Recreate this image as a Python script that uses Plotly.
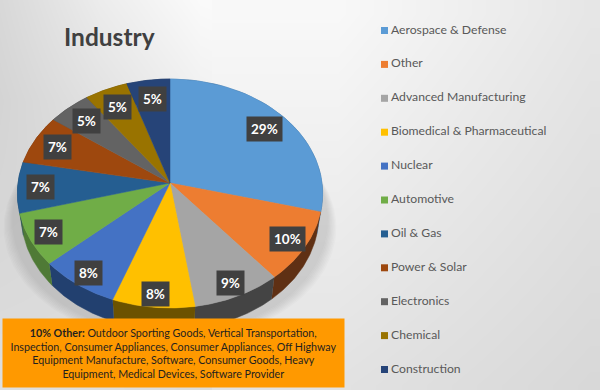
import numpy as np
import plotly.graph_objects as go

categories = ["Aerospace & Defense", "Other", "Advanced Manufacturing",
              "Biomedical & Pharmaceutical", "Nuclear", "Automotive", "Oil & Gas",
              "Power & Solar", "Electronics", "Chemical", "Construction"]
values = [29, 10, 8.6, 8, 7.8, 7.4, 7.2, 7, 5, 5, 5]
colors = ["#5B9BD5", "#ED7D31", "#A5A5A5", "#FFC000", "#4472C4", "#70AD47",
          "#255E91", "#9E480E", "#636363", "#997300", "#264478"]
wall_colors = ["#3A6A96", "#5F3014", "#444444", "#6B5200", "#22406F", "#4F7A36",
               "#1A4268", "#6E3209", "#454545", "#6B5000", "#1A2F54"]
title_text = "Industry"
note_text = ("<b>10% Other:</b> Outdoor Sporting Goods, Vertical Transportation,<br>"
             "Inspection, Consumer Appliances, Consumer Appliances, Off Highway<br>"
             "Equipment Manufacture, Software, Consumer Goods, Heavy<br>"
             "Equipment, Medical Devices, Software Provider")

# page background samples (grey levels)
bg_x = [0, 100, 200, 300, 340, 450, 600]
bg_y = [0, 100, 200, 300, 390]
bg_z = [[216, 236, 250, 254, 255, 232, 196],
        [212, 226, 240, 246, 244, 225, 200],
        [214, 218, 226, 232, 232, 215, 205],
        [218, 220, 222, 222, 222, 212, 206],
        [222, 222, 220, 220, 220, 210, 206]]
panel_x = [338, 590]
panel_y = [14, 385]
panel_z = [[248, 230], [226, 216]]

# tilted-pie projection
CX, CY, R, SY, P, DEPTH = 170, 183, 152, 113.5, 0.0917, 22


def project(angle, f=1.0):
    u, v = f * np.sin(angle), -f * np.cos(angle)
    d = 1 - P * v
    return CX + R * u / d, CY + SY * v / d


def wall_xy(x, y):
    return CX + (x - CX) * 0.975, y + DEPTH


grey_scale = [[0, "#000000"], [1, "#ffffff"]]
fig = go.Figure()
fig.add_trace(go.Heatmap(x=bg_x, y=bg_y, z=bg_z, zmin=0, zmax=255, colorscale=grey_scale,
                         zsmooth="best", showscale=False, hoverinfo="skip"))
fig.add_trace(go.Heatmap(x=panel_x, y=panel_y, z=panel_z, zmin=0, zmax=255, colorscale=grey_scale,
                         zsmooth="best", showscale=False, hoverinfo="skip"))

# soft shadow under the pie
full = np.linspace(0, 2 * np.pi, 181)
sx, sy = project(full)
for k in range(8):
    grow = 1.09 - 0.008 * k
    fig.add_trace(go.Scatter(x=CX + (sx - CX) * grow, y=sy + 34 - k, mode="lines", fill="toself",
                             line=dict(width=0), fillcolor="rgba(90,90,90,0.025)",
                             hoverinfo="skip", showlegend=False))

fractions = np.array(values) / sum(values)
edges = np.concatenate([[0], np.cumsum(fractions)]) * 2 * np.pi

# side walls
for i in range(len(values)):
    a = np.linspace(edges[i], edges[i + 1], 40)
    x, y = project(a)
    bx, by = wall_xy(x, y)
    fig.add_trace(go.Scatter(x=np.concatenate([x, bx[::-1]]), y=np.concatenate([y, by[::-1]]),
                             mode="lines", fill="toself", line=dict(width=0.5, color=wall_colors[i]),
                             fillcolor=wall_colors[i], hoverinfo="skip", showlegend=False))
# top faces
for i, name in enumerate(categories):
    a = np.linspace(edges[i], edges[i + 1], 40)
    x, y = project(a)
    fig.add_trace(go.Scatter(x=np.concatenate([[CX], x, [CX]]), y=np.concatenate([[CY], y, [CY]]),
                             mode="lines", fill="toself", line=dict(width=0.5, color=colors[i]),
                             fillcolor=colors[i], name=name, hoverinfo="name", showlegend=False))

annotations = []
# percentage labels
for i, val in enumerate(values):
    mid = (edges[i] + edges[i + 1]) / 2
    lx, ly = project(mid, 0.85 - 0.05 * np.cos(mid))
    annotations.append(dict(x=float(lx), y=float(ly), text=f"<b>{round(val)}%</b>", showarrow=False,
                            bgcolor="#404040", borderpad=4,
                            font=dict(family="Lato", size=13.5, color="#ffffff")))
# title
annotations.append(dict(x=109, y=36.5, text=f"<b>{title_text}</b>", showarrow=False,
                        font=dict(family="Lato", size=24.5, color="#404040")))
# note box
annotations.append(dict(x=173.5, y=353, text=note_text, showarrow=False, align="center",
                        width=341, height=68, bgcolor="#FF9900", borderpad=0, valign="middle",
                        font=dict(family="Lato", size=10.7, color="#1f1f1f")))

# legend column
row_y = [30.5 + 33.9 * i for i in range(len(categories))]
fig.add_trace(go.Scatter(x=[384.5] * len(categories), y=row_y, mode="markers",
                         marker=dict(symbol="square", size=7, color=colors),
                         hoverinfo="skip", showlegend=False))
fig.add_trace(go.Scatter(x=[391] * len(categories), y=row_y, mode="text",
                         text=categories, textposition="middle right",
                         textfont=dict(family="Lato", size=12.2, color="#595959"),
                         hoverinfo="skip", showlegend=False))

fig.update_layout(width=600, height=390, margin=dict(l=0, r=0, t=0, b=0),
                  paper_bgcolor="#e0e0e0", plot_bgcolor="#e0e0e0", showlegend=False,
                  annotations=annotations,
                  xaxis=dict(range=[0, 600], visible=False, fixedrange=True),
                  yaxis=dict(range=[390, 0], visible=False, fixedrange=True))
fig.write_html("out.html", config={"displayModeBar": False},
               post_script="document.body.style.margin='0';")
